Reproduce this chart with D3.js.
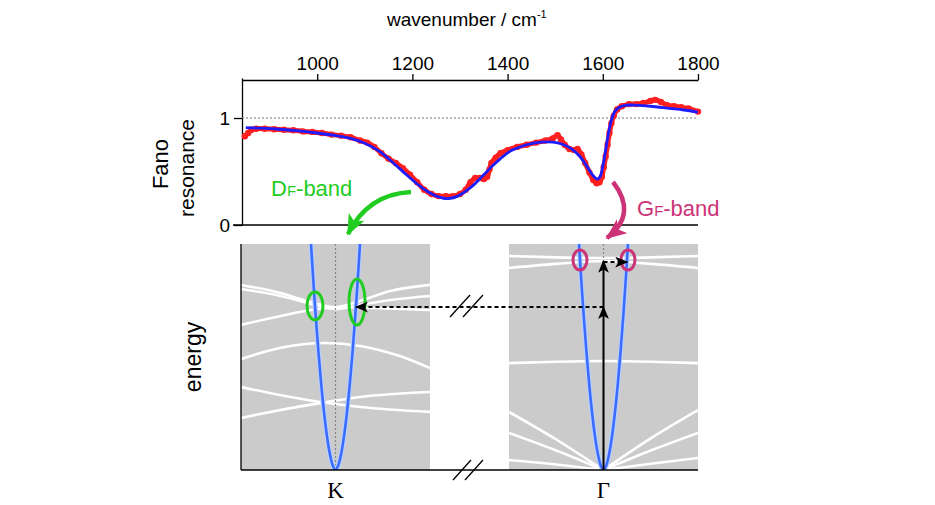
<!DOCTYPE html>
<html><head><meta charset="utf-8">
<script src="https://cdn.jsdelivr.net/npm/d3@7"></script>
<style>body{margin:0;background:#fff} svg{display:block}</style>
</head><body><svg id="c" width="935" height="505" font-family="'Liberation Sans',Arial,Helvetica,sans-serif"></svg>
<script>
// ---------- DATA ----------
const wnTicks = [1000, 1200, 1400, 1600, 1800];
const yTicks = [0, 1];
// fitted Fano line (blue)
const fitWn  = [850,880,920,960,1000,1040,1070,1100,1130,1160,1190,1220,1245,1265,1280,1295,1310,1330,1350,1370,1390,1410,1440,1470,1495,1515,1535,1550,1565,1578,1588,1594,1600,1606,1612,1618,1625,1635,1650,1670,1700,1740,1770,1800];
const fitVal = [0.91,0.905,0.895,0.88,0.86,0.835,0.81,0.765,0.69,0.58,0.46,0.35,0.28,0.25,0.25,0.27,0.31,0.38,0.47,0.56,0.64,0.70,0.75,0.775,0.775,0.755,0.71,0.65,0.56,0.47,0.43,0.45,0.55,0.70,0.86,0.98,1.06,1.10,1.12,1.12,1.11,1.09,1.075,1.055];
// experimental data (red)
const expWn  = [848,855,862,872,890,910,930,950,970,990,1010,1030,1050,1070,1090,1105,1120,1135,1150,1165,1180,1195,1210,1225,1240,1255,1270,1285,1300,1312,1322,1332,1342,1350,1357,1362,1366,1375,1385,1400,1420,1440,1460,1480,1495,1505,1512,1520,1530,1540,1547,1555,1563,1572,1580,1587,1593,1598,1602,1606,1610,1614,1618,1623,1630,1640,1655,1670,1685,1700,1710,1722,1735,1750,1765,1780,1800];
const expVal = [0.83,0.86,0.89,0.90,0.90,0.895,0.89,0.885,0.875,0.87,0.86,0.845,0.835,0.82,0.79,0.77,0.73,0.67,0.62,0.58,0.53,0.47,0.40,0.33,0.29,0.27,0.27,0.27,0.29,0.33,0.40,0.44,0.44,0.43,0.45,0.52,0.58,0.63,0.67,0.70,0.73,0.75,0.77,0.79,0.81,0.84,0.80,0.75,0.71,0.70,0.71,0.66,0.58,0.49,0.42,0.39,0.40,0.45,0.54,0.64,0.75,0.86,0.95,1.02,1.08,1.11,1.13,1.13,1.14,1.16,1.17,1.15,1.12,1.11,1.10,1.09,1.06];

// band structure (k normalized to panel half-width, energy normalized to panel height)
const coneK = [-0.259,-0.24,-0.21,-0.18,-0.15,-0.12,-0.09,-0.06,-0.03,0,0.03,0.06,0.09,0.12,0.15,0.18,0.21,0.24,0.259];
const coneE = [1.0,0.872,0.686,0.519,0.374,0.250,0.149,0.072,0.021,0,0.021,0.072,0.149,0.250,0.374,0.519,0.686,0.872,1.0];

const kBandsK = [
  [-1,-0.58,-0.26,0,0.26,0.58,1],
  [-1,-0.58,-0.26,0,0.26,0.58,1],
  [-1,-0.58,-0.26,0,0.37,1],
  [-1,-0.59,-0.11,0.26,0.68,1],
  [-1,-0.59,-0.16,0.26,1],
  [-1,-0.59,-0.16,0.26,1]
];
const kBandsE = [
  [0.819,0.783,0.743,0.721,0.748,0.792,0.819],
  [0.801,0.770,0.735,0.712,0.730,0.752,0.770],
  [0.642,0.681,0.708,0.719,0.717,0.708],
  [0.491,0.540,0.562,0.549,0.504,0.451],
  [0.367,0.332,0.301,0.279,0.257],
  [0.230,0.265,0.296,0.323,0.345]
];
const gBandsK = [
  [-1,-0.5,0,0.5,1],
  [-1,-0.5,0,0.5,1],
  [-1,-0.5,0,0.5,1],
  [-1,-0.5,0],
  [-1,-0.5,0],
  [-1,-0.5,0],
  [0,0.5,1],
  [0,0.5,1],
  [0,0.5,1]
];
const gBandsE = [
  [0.947,0.941,0.938,0.941,0.947],
  [0.894,0.912,0.925,0.912,0.894],
  [0.473,0.479,0.482,0.479,0.473],
  [0.257,0.135,0],
  [0.164,0.086,0],
  [0.044,0.024,0],
  [0,0.140,0.265],
  [0,0.086,0.164],
  [0,0.028,0.053]
];

// ---------- DRAW ----------
const svg = d3.select('#c');
const RED = '#ff1f1f', BLUE = '#1c1cff', GREEN = '#1fcc1f', MAG = '#cc3377';
const SERIF = "'Liberation Serif','Times New Roman',serif";

const defs = svg.append('defs');
function marker(id, color, w, h) {
  defs.append('marker').attr('id', id).attr('viewBox', '0 0 12 10')
    .attr('refX', 11).attr('refY', 5).attr('markerWidth', w).attr('markerHeight', h)
    .attr('markerUnits', 'userSpaceOnUse').attr('orient', 'auto')
    .append('path').attr('d', 'M0,0 L12,5 L0,10 L3,5 Z').attr('fill', color);
}
marker('ahK', '#000', 13, 11);
marker('ahG', GREEN, 21, 18);
marker('ahM', MAG, 21, 18);

// top chart
const x = d3.scaleLinear().domain([842, 1800]).range([242, 698]);
const y = d3.scaleLinear().domain([0, 1.374]).range([225, 78]);

const topG = svg.append('g');
topG.append('g').attr('transform', 'translate(0,80)')
  .call(d3.axisTop(x).tickValues(wnTicks).tickFormat(d3.format('d')).tickSize(6).tickSizeOuter(0).tickPadding(4))
  .call(g => { g.attr('font-family', null).attr('font-size', null);
    g.select('.domain').attr('stroke', '#000').attr('stroke-width', 1.3);
    g.selectAll('.tick line').attr('stroke-width', 1.3);
    g.selectAll('text').attr('font-size', 19).attr('fill', '#000'); });
topG.append('g').attr('transform', 'translate(242,0)')
  .call(d3.axisLeft(y).tickValues(yTicks).tickFormat(d3.format('d')).tickSize(8).tickSizeOuter(0).tickPadding(4))
  .call(g => { g.attr('font-family', null).attr('font-size', null);
    g.select('.domain').attr('stroke', '#000').attr('stroke-width', 1.3);
    g.selectAll('.tick line').attr('stroke-width', 1.3);
    g.selectAll('text').attr('font-size', 19).attr('fill', '#000').attr('dy', '0.35em'); });
// bottom line at 0
topG.append('line').attr('x1', x.range()[0] - 9).attr('x2', x.range()[1]).attr('y1', y(0)).attr('y2', y(0))
  .attr('stroke', '#000').attr('stroke-width', 1.3);
// reference dashed at 1
topG.append('line').attr('x1', x.range()[0]).attr('x2', x.range()[1]).attr('y1', y(1)).attr('y2', y(1))
  .attr('stroke', '#777').attr('stroke-width', 1).attr('stroke-dasharray', '2,2');

const expPts = expWn.map((w, i) => [w, expVal[i]]);
const fitPts = fitWn.map((w, i) => [w, fitVal[i]]);
const line = d3.line().x(d => x(d[0])).y(d => y(d[1])).curve(d3.curveCatmullRom);
topG.append('path').attr('d', line(expPts)).attr('fill', 'none').attr('stroke', RED)
  .attr('stroke-width', 5).attr('stroke-linecap', 'round').attr('stroke-linejoin', 'round');
topG.selectAll('circle.e').data(expPts).join('circle').attr('class', 'e')
  .attr('cx', d => x(d[0])).attr('cy', d => y(d[1])).attr('r', 3.2).attr('fill', RED);
topG.append('path').attr('d', line(fitPts)).attr('fill', 'none').attr('stroke', BLUE).attr('stroke-width', 2.8);

// titles
const t1 = svg.append('text').attr('x', 387).attr('y', 26).attr('font-size', 19).attr('fill', '#000');
t1.append('tspan').text('wavenumber / cm');
t1.append('tspan').text('-1').attr('font-size', 11).attr('dy', -8);

svg.append('text').attr('transform', 'translate(168,164) rotate(-90)').attr('text-anchor', 'middle')
  .attr('font-size', 22).text('Fano');
svg.append('text').attr('transform', 'translate(194,168) rotate(-90)').attr('text-anchor', 'middle')
  .attr('font-size', 21).text('resonance');
svg.append('text').attr('transform', 'translate(201,357) rotate(-90)').attr('text-anchor', 'middle')
  .attr('font-size', 23).text('energy');

// ---------- bottom panels ----------
const kL = d3.scaleLinear().domain([-1, 1]).range([241, 430]);
const kR = d3.scaleLinear().domain([-1, 1]).range([509, 698]);
const e = d3.scaleLinear().domain([0, 1]).range([470, 244]);

function panel(ks, bandsK, bandsE, id) {
  const g = svg.append('g');
  defs.append('clipPath').attr('id', id).append('rect')
    .attr('x', ks(-1)).attr('y', e(1)).attr('width', ks(1) - ks(-1)).attr('height', e(0) - e(1));
  g.append('rect').attr('x', ks(-1)).attr('y', e(1)).attr('width', ks(1) - ks(-1)).attr('height', e(0) - e(1)).attr('fill', '#cbcbcb');
  const inner = g.append('g').attr('clip-path', `url(#${id})`);
  const bl = d3.line().x(d => ks(d[0])).y(d => e(d[1])).curve(d3.curveMonotoneX);
  bandsK.forEach((kk, i) => {
    inner.append('path').attr('d', bl(kk.map((k, j) => [k, bandsE[i][j]])))
      .attr('fill', 'none').attr('stroke', '#fff').attr('stroke-width', 2.6);
  });
  inner.append('line').attr('x1', ks(0)).attr('x2', ks(0)).attr('y1', e(1)).attr('y2', e(0))
    .attr('stroke', '#888').attr('stroke-width', 1.2).attr('stroke-dasharray', '2,2');
  const cl = d3.line().x(d => ks(d[0])).y(d => e(d[1])).curve(d3.curveCatmullRom);
  const cpts = coneK.map((k, j) => [k, coneE[j]]);
  inner.append('path').attr('d', cl(cpts)).attr('fill', 'none').attr('stroke', '#b8d0ff').attr('stroke-width', 5);
  inner.append('path').attr('d', cl(cpts)).attr('fill', 'none').attr('stroke', '#3b6bff').attr('stroke-width', 2.6);
  return g;
}
panel(kL, kBandsK, kBandsE, 'clipL');
panel(kR, gBandsK, gBandsE, 'clipR');

// axes of bottom panels
svg.append('line').attr('x1', kL(-1)).attr('x2', kL(-1)).attr('y1', e(1)).attr('y2', e(0)).attr('stroke', '#000').attr('stroke-width', 1.3);
svg.append('line').attr('x1', kL(-1)).attr('x2', kR(1)).attr('y1', e(0)).attr('y2', e(0)).attr('stroke', '#000').attr('stroke-width', 1.5);
svg.append('text').attr('x', kL(0)).attr('y', 498).attr('text-anchor', 'middle').attr('font-size', 23)
  .attr('font-family', SERIF).text('K');
svg.append('text').attr('x', kR(0)).attr('y', 498).attr('text-anchor', 'middle').attr('font-size', 23)
  .attr('font-family', SERIF).text('Γ');

// break marks
[[450, 470, 317, 295], [463, 483, 317, 295], [453, 471, 480, 460], [465, 483, 480, 460]].forEach(s => {
  svg.append('line').attr('x1', s[0]).attr('x2', s[1]).attr('y1', s[2]).attr('y2', s[3])
    .attr('stroke', '#000').attr('stroke-width', 1.3);
});

// ellipses
[[kL, -0.217, 0.726, 8, 14, GREEN], [kL, 0.228, 0.743, 8, 23, GREEN],
 [kR, -0.249, 0.929, 7, 10, MAG], [kR, 0.259, 0.929, 7, 10, MAG]].forEach(c => {
  svg.append('ellipse').attr('cx', c[0](c[1])).attr('cy', e(c[2])).attr('rx', c[3]).attr('ry', c[4])
    .attr('fill', 'none').attr('stroke', c[5]).attr('stroke-width', 3);
});

// arrows
svg.append('line').attr('x1', kR(0)).attr('x2', kR(0)).attr('y1', e(0)).attr('y2', e(0.721))
  .attr('stroke', '#000').attr('stroke-width', 2).attr('marker-end', 'url(#ahK)');
svg.append('line').attr('x1', kR(0)).attr('x2', kR(0)).attr('y1', e(0.721)).attr('y2', e(0.925))
  .attr('stroke', '#000').attr('stroke-width', 2).attr('marker-end', 'url(#ahK)');
svg.append('line').attr('x1', kR(0)).attr('x2', kR(0.25)).attr('y1', e(0.92)).attr('y2', e(0.92))
  .attr('stroke', '#000').attr('stroke-width', 2).attr('stroke-dasharray', '4,3').attr('marker-end', 'url(#ahK)');
svg.append('line').attr('x1', kR(0)).attr('x2', kL(0.217)).attr('y1', e(0.721)).attr('y2', e(0.721))
  .attr('stroke', '#000').attr('stroke-width', 2).attr('stroke-dasharray', '4,3').attr('marker-end', 'url(#ahK)');

// curved band arrows
svg.append('path').attr('d', 'M411,192 Q368,194 348,234').attr('fill', 'none').attr('stroke', GREEN)
  .attr('stroke-width', 4.5).attr('marker-end', 'url(#ahG)');
svg.append('path').attr('d', 'M613,182 Q638,214 607,238').attr('fill', 'none').attr('stroke', MAG)
  .attr('stroke-width', 4.5).attr('marker-end', 'url(#ahM)');

// band labels
const dl = svg.append('text').attr('x', 271).attr('y', 196).attr('fill', GREEN).attr('font-size', 22);
dl.append('tspan').text('D'); dl.append('tspan').attr('font-size', 15).text('F'); dl.append('tspan').text('-band');
const gl = svg.append('text').attr('x', 637).attr('y', 216).attr('fill', MAG).attr('font-size', 22);
gl.append('tspan').text('G'); gl.append('tspan').attr('font-size', 15).text('F'); gl.append('tspan').text('-band');
</script></body></html>
